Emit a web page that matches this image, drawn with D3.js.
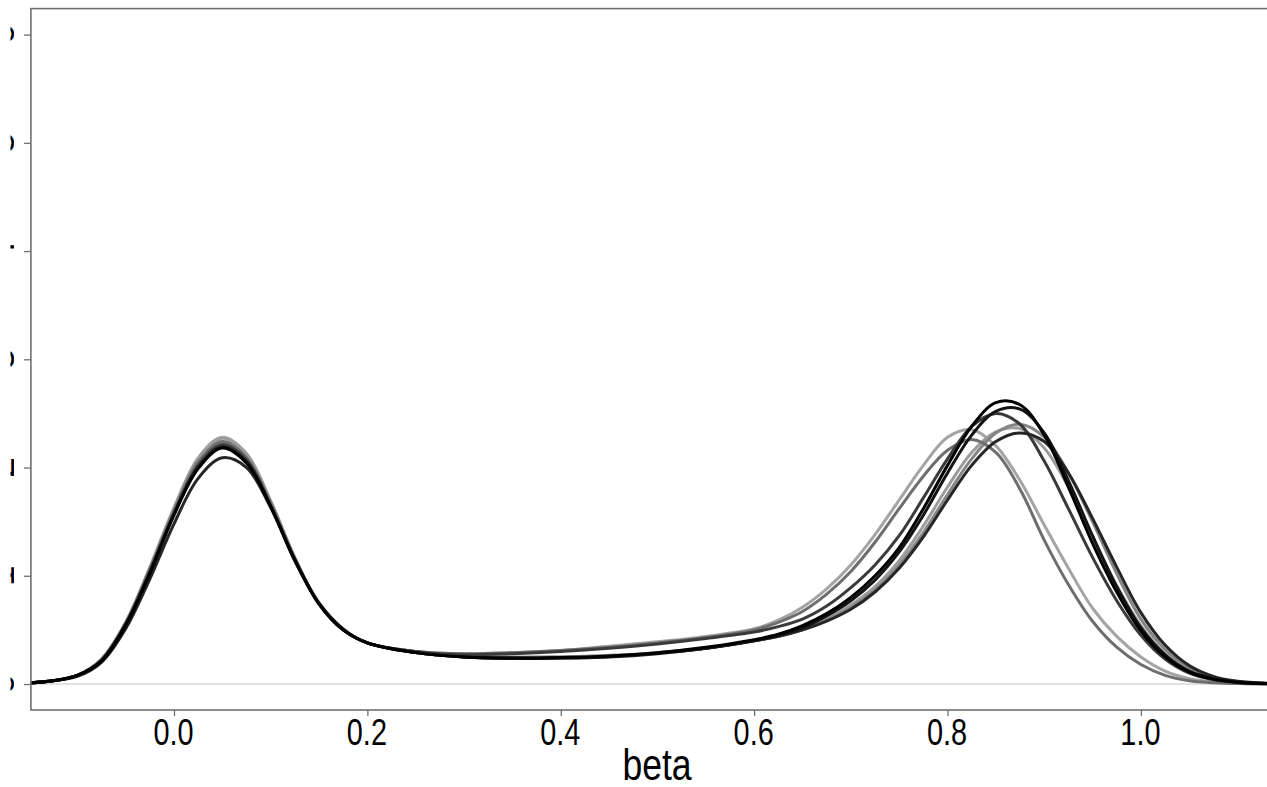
<!DOCTYPE html>
<html>
<head>
<meta charset="utf-8">
<script src="https://cdn.jsdelivr.net/npm/d3@7"></script>
<style>
  html, body { margin: 0; padding: 0; background: #fff; }
  svg { display: block; }
  text { font-family: "Liberation Sans", Arial, Helvetica, sans-serif; fill: #000; }
</style>
</head>
<body>
<script>
// Sample points along beta where each density curve is read
const xGrid = [-0.15,-0.125,-0.1,-0.075,-0.05,-0.025,0,0.025,0.05,0.075,0.1,0.125,0.15,0.175,0.2,
  0.25,0.3,0.35,0.4,0.45,0.5,0.55,0.6,
  0.625,0.65,0.675,0.7,0.725,0.75,0.775,0.8,0.825,0.85,0.875,0.9,0.925,0.95,0.975,1.0,1.025,1.05,1.075,1.1,1.15];

// Density values per sample
const densityA = [0.01,0.03,0.08,0.23,0.57,1.08,1.63,2.09,2.28,2.13,1.69,1.17,0.74,0.50,0.38,
  0.30,0.28,0.29,0.31,0.35,0.39,0.44,0.51,
  0.59,0.71,0.88,1.10,1.38,1.70,2.02,2.28,2.35,2.20,1.88,1.47,1.07,0.70,0.44,0.25,0.12,0.05,0.02,0.007,0];
const densityB = [0.01,0.03,0.08,0.22,0.56,1.06,1.60,2.05,2.24,2.09,1.67,1.16,0.74,0.50,0.38,
  0.30,0.28,0.29,0.31,0.34,0.38,0.43,0.50,
  0.57,0.67,0.83,1.04,1.31,1.62,1.92,2.16,2.26,2.14,1.80,1.33,0.92,0.58,0.34,0.18,0.08,0.03,0.012,0.004,0];
const densityC = [0.01,0.03,0.08,0.21,0.54,1.02,1.56,1.99,2.18,2.04,1.64,1.14,0.74,0.50,0.38,
  0.29,0.25,0.24,0.245,0.26,0.29,0.34,0.41,
  0.46,0.54,0.65,0.80,1.00,1.26,1.62,2.02,2.38,2.60,2.58,2.30,1.82,1.30,0.85,0.49,0.25,0.11,0.045,0.015,0];
const densityD = [0.01,0.03,0.08,0.22,0.55,1.03,1.57,2.00,2.19,2.05,1.64,1.14,0.74,0.50,0.38,
  0.29,0.25,0.235,0.24,0.255,0.285,0.33,0.40,
  0.45,0.52,0.63,0.77,0.96,1.22,1.56,1.95,2.30,2.52,2.54,2.32,1.88,1.37,0.90,0.52,0.27,0.12,0.05,0.018,0];
const densityE = [0.01,0.03,0.08,0.22,0.55,1.04,1.58,2.02,2.21,2.07,1.65,1.15,0.74,0.50,0.38,
  0.30,0.27,0.28,0.30,0.33,0.37,0.42,0.48,
  0.53,0.60,0.72,0.89,1.10,1.37,1.72,2.08,2.38,2.50,2.40,2.06,1.62,1.17,0.77,0.45,0.23,0.10,0.04,0.015,0];
const densityF = [0.01,0.03,0.08,0.22,0.56,1.05,1.59,2.04,2.23,2.08,1.66,1.15,0.74,0.50,0.38,
  0.29,0.255,0.245,0.25,0.26,0.29,0.33,0.40,
  0.44,0.50,0.59,0.71,0.87,1.10,1.40,1.75,2.08,2.32,2.40,2.28,1.95,1.50,1.02,0.60,0.32,0.15,0.06,0.02,0];
const densityG = [0.01,0.03,0.07,0.20,0.51,0.97,1.48,1.90,2.09,2.00,1.63,1.15,0.75,0.51,0.38,
  0.29,0.25,0.24,0.24,0.25,0.28,0.33,0.40,
  0.44,0.50,0.58,0.69,0.85,1.07,1.36,1.70,2.02,2.24,2.32,2.24,1.95,1.53,1.08,0.66,0.36,0.17,0.07,0.025,0];
const densityH = [0.01,0.03,0.08,0.23,0.57,1.07,1.62,2.08,2.27,2.12,1.69,1.16,0.74,0.50,0.38,
  0.29,0.26,0.25,0.25,0.265,0.29,0.33,0.40,
  0.44,0.50,0.60,0.73,0.90,1.14,1.46,1.82,2.14,2.33,2.36,2.18,1.82,1.36,0.91,0.54,0.28,0.13,0.05,0.018,0];

// Drawing order (lighter curves beneath darker ones) and stroke greys
const seriesValues = [densityA, densityH, densityF, densityB, densityE, densityG, densityD, densityC];
const seriesColors = ["#a4a4a4", "#9c9c9c", "#858585", "#6e6e6e", "#3a3a3a", "#262626", "#141414", "#000000"];

const xTicks = [0, 0.2, 0.4, 0.6, 0.8, 1.0];
const yTicks = [0, 1, 2, 3, 4, 5, 6];
const xLabel = "beta";

const W = 1267, H = 787;
const plot = { left: 30.9, right: 1284, top: 8.6, bottom: 710 };

const x = d3.scaleLinear().domain([-0.148, 1.148]).range([plot.left, plot.right]);
const y = d3.scaleLinear().domain([-0.24, 6.24]).range([plot.bottom, plot.top]);

const svg = d3.select("body").append("svg")
  .attr("width", W).attr("height", H)
  .attr("viewBox", `0 0 ${W} ${H}`);

svg.append("rect").attr("width", W).attr("height", H).attr("fill", "#fff");

const defs = svg.append("defs");
defs.append("clipPath").attr("id", "plot-clip")
  .append("rect")
  .attr("x", plot.left).attr("y", plot.top)
  .attr("width", plot.right - plot.left).attr("height", plot.bottom - plot.top);
// the y tick labels sit in the trimmed left margin; only their lower edge remains
defs.append("clipPath").attr("id", "ylab-clip")
  .append("rect").attr("x", 10.5).attr("y", 0).attr("width", 3.5).attr("height", H);

// zero line
svg.append("line")
  .attr("x1", plot.left).attr("x2", plot.right)
  .attr("y1", y(0)).attr("y2", y(0))
  .attr("stroke", "#c8c8c8").attr("stroke-width", 1);

// density curves
const line = d3.line()
  .x((d, i) => x(xGrid[i]))
  .y(d => y(d))
  .curve(d3.curveCatmullRom.alpha(0.5));

svg.append("g").attr("clip-path", "url(#plot-clip)")
  .selectAll("path")
  .data(seriesValues)
  .join("path")
  .attr("d", d => line(d))
  .attr("fill", "none")
  .attr("stroke", (d, i) => seriesColors[i])
  .attr("stroke-width", 3)
  .attr("stroke-linejoin", "round");

// frame
svg.append("rect")
  .attr("x", plot.left).attr("y", plot.top)
  .attr("width", plot.right - plot.left).attr("height", plot.bottom - plot.top)
  .attr("fill", "none").attr("stroke", "#707070").attr("stroke-width", 1.6);

// x axis
const xAxis = d3.axisBottom(x)
  .tickValues(xTicks)
  .tickSize(6)
  .tickFormat(d3.format(".1f"));
const gx = svg.append("g").attr("transform", `translate(0,${plot.bottom})`).call(xAxis);
gx.select(".domain").remove();
gx.selectAll(".tick line").attr("stroke", "#707070").attr("stroke-width", 1.3);
gx.selectAll(".tick text")
  .attr("y", 0).attr("dy", 0)
  .attr("font-size", 37)
  .attr("fill", "#000")
  .attr("transform", "translate(-1,35) scale(0.78,1)")
  .style("font-family", "'Liberation Sans', Arial, sans-serif");

// y axis
const yAxis = d3.axisLeft(y)
  .tickValues(yTicks)
  .tickSize(7)
  .tickFormat(d3.format("d"));
const gy = svg.append("g").attr("transform", `translate(${plot.left},0)`).call(yAxis);
gy.select(".domain").remove();
gy.selectAll(".tick line").attr("stroke", "#707070").attr("stroke-width", 1.3);
gy.selectAll(".tick text").remove();

// rotated y tick labels
svg.append("g").attr("clip-path", "url(#ylab-clip)")
  .selectAll("text")
  .data(yTicks)
  .join("text")
  .attr("transform", d => `translate(13.5,${y(d)}) rotate(-90)`)
  .attr("text-anchor", "middle")
  .attr("font-size", 37)
  .text(d => d);

// x axis title
svg.append("text")
  .attr("transform", `translate(657,780) scale(0.79,1)`)
  .attr("text-anchor", "middle")
  .attr("font-size", 45)
  .text(xLabel);
</script>
</body>
</html>
